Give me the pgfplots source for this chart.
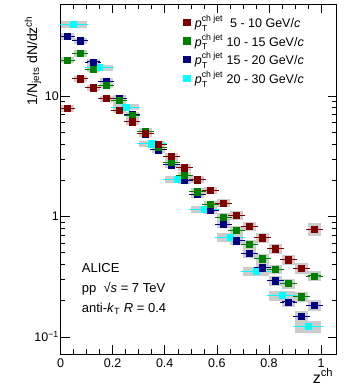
\documentclass[border=0pt]{standalone}
\usepackage{pgfplots}
\usepackage{pgfplotstable}
\pgfplotsset{compat=1.18}
\usepackage{amsmath}
\usepackage{fontspec}
\setmainfont{Liberation Sans}
\definecolor{cred}{HTML}{800000}
\definecolor{cgreen}{HTML}{008000}
\definecolor{cblue}{HTML}{000080}
\definecolor{ccyan}{HTML}{00FFFF}
\definecolor{sysgray}{HTML}{CCCCCC}

\pgfplotstableread{
x y sys
0.025 7.86 0.06
0.075 13.9 0.06
0.125 11.7 0.06
0.175 9.51 0.06
0.225 7.65 0.06
0.275 6.10 0.06
0.325 4.87 0.06
0.375 3.95 0.06
0.425 3.17 0.06
0.475 2.54 0.07
0.525 2.02 0.07
0.575 1.64 0.07
0.625 1.29 0.08
0.675 1.02 0.08
0.725 0.826 0.08
0.775 0.665 0.09
0.825 0.539 0.09
0.875 0.436 0.10
0.925 0.370 0.10
0.975 0.785 0.12
}\redtab

\pgfplotstableread{
x y sys
0.025 19.8 0.06
0.075 22.5 0.06
0.125 16.7 0.06
0.175 12.3 0.06
0.225 9.16 0.06
0.275 6.91 0.06
0.325 5.12 0.06
0.375 3.75 0.06
0.425 2.83 0.06
0.475 2.20 0.07
0.525 1.60 0.07
0.575 1.26 0.07
0.625 0.987 0.08
0.675 0.77 0.08
0.725 0.585 0.08
0.775 0.445 0.09
0.825 0.363 0.09
0.875 0.277 0.10
0.925 0.215 0.10
0.975 0.321 0.10
}\greentab

\pgfplotstableread{
x y sys
0.025 31.2 0.06
0.075 28.7 0.06
0.125 19.2 0.06
0.175 13.3 0.06
0.225 9.62 0.06
0.275 7.00 0.06
0.325 4.85 0.06
0.375 3.58 0.06
0.425 2.69 0.06
0.475 1.99 0.07
0.525 1.52 0.07
0.575 1.12 0.07
0.625 0.865 0.08
0.675 0.628 0.08
0.725 0.492 0.08
0.775 0.375 0.09
0.825 0.292 0.09
0.875 0.195 0.10
0.925 0.148 0.10
0.975 0.183 0.10
}\bluetab

\pgfplotstableread{
x y sys
0.05 39.2 0.06
0.15 17.2 0.06
0.25 8.06 0.06
0.35 4.02 0.06
0.45 2.04 0.07
0.55 1.15 0.07
0.65 0.669 0.08
0.75 0.349 0.09
0.85 0.220 0.10
0.95 0.122 0.11
}\cyantab

\pgfplotsset{
  sysbox/.style={draw=none, mark=none, forget plot,
    error bars/.cd, y dir=both, y explicit relative, error mark=none,
    error bar style={line width=#1, draw=sysgray}},
  ptstyle/.style 2 args={only marks, mark=square*, mark size=3.1pt, color=#1,
    mark options={draw=#1, fill=#1},
    error bars/.cd, x dir=both, x explicit,
    error bar style={line width=0.8pt, draw=#1},
    error mark options={mark size=1.8pt, line width=0.6pt, draw=#1}},
}

\begin{document}
\begin{tikzpicture}
\begin{axis}[
  name=ax,
  scale only axis,
  width=276.2pt, height=350pt,
  xmin=0, xmax=1.06,
  ymode=log, ymin=0.072, ymax=58,
  axis line style={line width=0.6pt},
  tick align=inside,
  xtick pos=both, ytick pos=both,
  major tick length=9pt, minor tick length=5pt,
  every tick/.style={line width=0.5pt, black},
  xtick={0,0.2,0.4,0.6,0.8,1},
  minor x tick num=3,
  ytick={0.1,1,10},
  yticklabels={10\textsuperscript{−1},1,10},
  /pgf/number format/assume math mode=true,
  tick label style={font=\fontsize{12.5}{15}\selectfont},
  xticklabel style={yshift=-1pt},
  yticklabel style={inner sep=1.5pt},
  ylabel={1/N\textsubscript{jets} dN/dz\textsuperscript{ch}},
  ylabel style={at={(axis description cs:-0.085,0.975)}, anchor=base east,
    font=\fontsize{14}{17}\selectfont},
  xlabel={z\textsuperscript{ch}},
  xlabel style={at={(axis description cs:1,-0.083)}, anchor=base east,
    font=\fontsize{16}{19}\selectfont},
  reverse legend,
  legend style={draw=none, fill=none, at={(axis description cs:0.445,0.975)},
    anchor=north west, font=\fontsize{12.5}{15}\selectfont,
    row sep=1pt, inner sep=0pt, column sep=3pt,
    cells={anchor=west}},
  legend image code/.code={\draw[#1] plot coordinates {(0pt,0pt)};},
]
% systematic boxes
\addplot[sysbox=26pt] table[x=x, y=y, y error=sys] {\cyantab};
\addplot[sysbox=13pt] table[x=x, y=y, y error=sys] {\bluetab};
\addplot[sysbox=13pt] table[x=x, y=y, y error=sys] {\greentab};
\addplot[sysbox=13pt] table[x=x, y=y, y error=sys] {\redtab};
% points
\addplot[ptstyle={ccyan}{}] table[x=x, y=y, x error expr=0.05] {\cyantab};
\addlegendentry{$\textit{p}_{\text{T}}^{\text{ch jet}}$ 20 - 30 GeV/\textit{c}}
\addplot[ptstyle={cblue}{}] table[x=x, y=y, x error expr=0.025] {\bluetab};
\addlegendentry{$\textit{p}_{\text{T}}^{\text{ch jet}}$ 15 - 20 GeV/\textit{c}}
\addplot[ptstyle={cgreen}{}] table[x=x, y=y, x error expr=0.025] {\greentab};
\addlegendentry{$\textit{p}_{\text{T}}^{\text{ch jet}}$ 10 - 15 GeV/\textit{c}}
\addplot[ptstyle={cred}{}] table[x=x, y=y, x error expr=0.025] {\redtab};
\addlegendentry{$\textit{p}_{\text{T}}^{\text{ch jet}}$ \ 5 - 10 GeV/\textit{c}}

\node[anchor=base west, font=\fontsize{13}{15}\selectfont, inner sep=1pt] at (axis description cs:0.073,0.234) {ALICE};
\node[anchor=base west, font=\fontsize{13}{15}\selectfont, inner sep=1pt] at (axis description cs:0.073,0.177) {pp \ √\textit{s} = 7 TeV};
\node[anchor=base west, font=\fontsize{13}{15}\selectfont, inner sep=1pt] at (axis description cs:0.073,0.120) {anti-\textit{k}\textsubscript{T} \textit{R} = 0.4};
\end{axis}
\pgfresetboundingbox
\path (ax.south west) ++(-60.5pt,-33pt) rectangle ++(355pt,387pt);
\end{tikzpicture}
\end{document}
